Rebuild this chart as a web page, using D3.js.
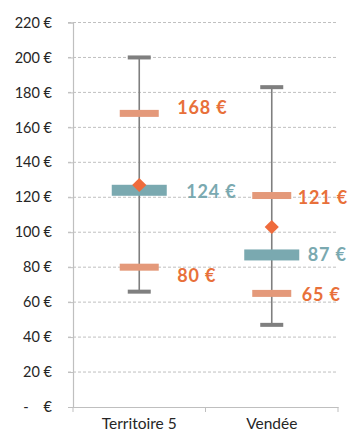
<!DOCTYPE html>
<html>
<head>
<meta charset="utf-8">
<script src="https://cdn.jsdelivr.net/npm/d3@7"></script>
<style>
  html, body { margin: 0; padding: 0; background: #fff; }
  svg { display: block; }
</style>
</head>
<body>
<svg id="chart" width="352" height="434"></svg>
<script>
// Price distribution per territory: min / Q1 / median / mean / Q3 / max
const categories = ["Territoire 5", "Vendée"];
const minValues    = [66, 47];
const q1Values     = [80, 65];
const medianValues = [124, 87];
const meanValues   = [127, 103];
const q3Values     = [168, 121];
const maxValues    = [200, 183];
const yTicks = [0, 20, 40, 60, 80, 100, 120, 140, 160, 180, 200, 220];

const svg = d3.select("#chart");
const plotLeft = 73, plotRight = 338, plotTop = 22.5, plotBottom = 407;

const x = d3.scaleBand().domain(categories).range([plotLeft, plotRight]).padding(0);
const y = d3.scaleLinear().domain([0, 220]).range([plotBottom, plotTop]);

const fmt = v => v === 0 ? "-\u00a0\u00a0\u00a0\u00a0€" : v + " €";
const fontFamily = "Lato, 'Open Sans', sans-serif";

// gridlines
svg.append("g")
  .selectAll("line")
  .data(yTicks.filter(d => d > 0))
  .join("line")
  .attr("x1", plotLeft - 5).attr("x2", plotRight)
  .attr("y1", d => y(d)).attr("y2", d => y(d))
  .attr("stroke", "#b0b0b0")
  .attr("stroke-width", 0.8)
  .attr("stroke-dasharray", "3,2");

// y axis
const yAxis = svg.append("g")
  .attr("transform", `translate(${plotLeft},0)`)
  .call(d3.axisLeft(y).tickValues(yTicks).tickFormat(fmt).tickSize(5).tickPadding(16));
yAxis.select(".domain").attr("stroke", "#bfbfbf").attr("stroke-width", 1.2);
yAxis.selectAll(".tick line").attr("stroke", "#bfbfbf");
yAxis.selectAll("text")
  .attr("font-family", fontFamily).attr("font-size", 14.5).attr("fill", "#262626");

// x axis
const xAxis = svg.append("g")
  .attr("transform", `translate(0,${plotBottom})`)
  .call(d3.axisBottom(x).tickSize(0).tickPadding(11));
xAxis.select(".domain").attr("stroke", "#bfbfbf").attr("stroke-width", 1.2);
xAxis.selectAll("text")
  .attr("font-family", fontFamily).attr("font-size", 15.5).attr("fill", "#262626");
// category separators
svg.append("g")
  .selectAll("line")
  .data([plotLeft, ...categories.map(c => x(c) + x.bandwidth())])
  .join("line")
  .attr("x1", d => d).attr("x2", d => d)
  .attr("y1", plotBottom).attr("y2", plotBottom + 5)
  .attr("stroke", "#bfbfbf");

const cx = c => x(c) + x.bandwidth() / 2;
const rows = categories.map((c, i) => ({
  c, min: minValues[i], q1: q1Values[i], med: medianValues[i],
  mean: meanValues[i], q3: q3Values[i], max: maxValues[i]
}));

const g = svg.append("g");

// whiskers
g.selectAll(".whisker").data(rows).join("line")
  .attr("class", "whisker")
  .attr("x1", d => cx(d.c)).attr("x2", d => cx(d.c))
  .attr("y1", d => y(d.max)).attr("y2", d => y(d.min))
  .attr("stroke", "#7f7f7f").attr("stroke-width", 1.6);

// caps
["max", "min"].forEach(k => {
  g.selectAll(".cap-" + k).data(rows).join("rect")
    .attr("class", "cap-" + k)
    .attr("x", d => cx(d.c) - 11.5).attr("width", 23)
    .attr("y", d => y(d[k]) - 2).attr("height", 4)
    .attr("fill", "#7f7f7f");
});

// quartile bars
["q1", "q3"].forEach(k => {
  g.selectAll(".bar-" + k).data(rows).join("rect")
    .attr("class", "bar-" + k)
    .attr("x", d => cx(d.c) - 19.5).attr("width", 39)
    .attr("y", d => y(d[k]) - 3.5).attr("height", 7)
    .attr("fill", "#e4997a");
});

// median bars
g.selectAll(".median").data(rows).join("rect")
  .attr("class", "median")
  .attr("x", d => cx(d.c) - 27.5).attr("width", 55)
  .attr("y", d => y(d.med) - 5.5).attr("height", 11)
  .attr("fill", "#7aa9b0");

// mean diamonds
g.selectAll(".mean").data(rows).join("path")
  .attr("class", "mean")
  .attr("transform", d => `translate(${cx(d.c)},${y(d.mean)}) rotate(45)`)
  .attr("d", "M-5,-5H5V5H-5Z")
  .attr("fill", "#ef6b3c");

// value labels
const labelSpecs = [
  { key: "q3",  i: 0, dx: 38, dy: -6, color: "#e8703a" },
  { key: "med", i: 0, dx: 47, dy: 1,  color: "#7aa9b0" },
  { key: "q1",  i: 0, dx: 38, dy: 9,  color: "#e8703a" },
  { key: "q3",  i: 1, dx: 26, dy: 2,  color: "#e8703a" },
  { key: "med", i: 1, dx: 36, dy: 0,  color: "#7aa9b0" },
  { key: "q1",  i: 1, dx: 30, dy: 1,  color: "#e8703a" }
];
g.selectAll(".label").data(labelSpecs).join("text")
  .attr("class", "label")
  .attr("x", d => cx(rows[d.i].c) + d.dx)
  .attr("y", d => y(rows[d.i][d.key]) + d.dy)
  .attr("dy", "0.35em")
  .attr("font-family", fontFamily)
  .attr("font-weight", "bold")
  .attr("font-size", 18)
  .attr("letter-spacing", 0.8)
  .attr("fill", d => d.color)
  .text(d => rows[d.i][d.key] + " €");
</script>
</body>
</html>
